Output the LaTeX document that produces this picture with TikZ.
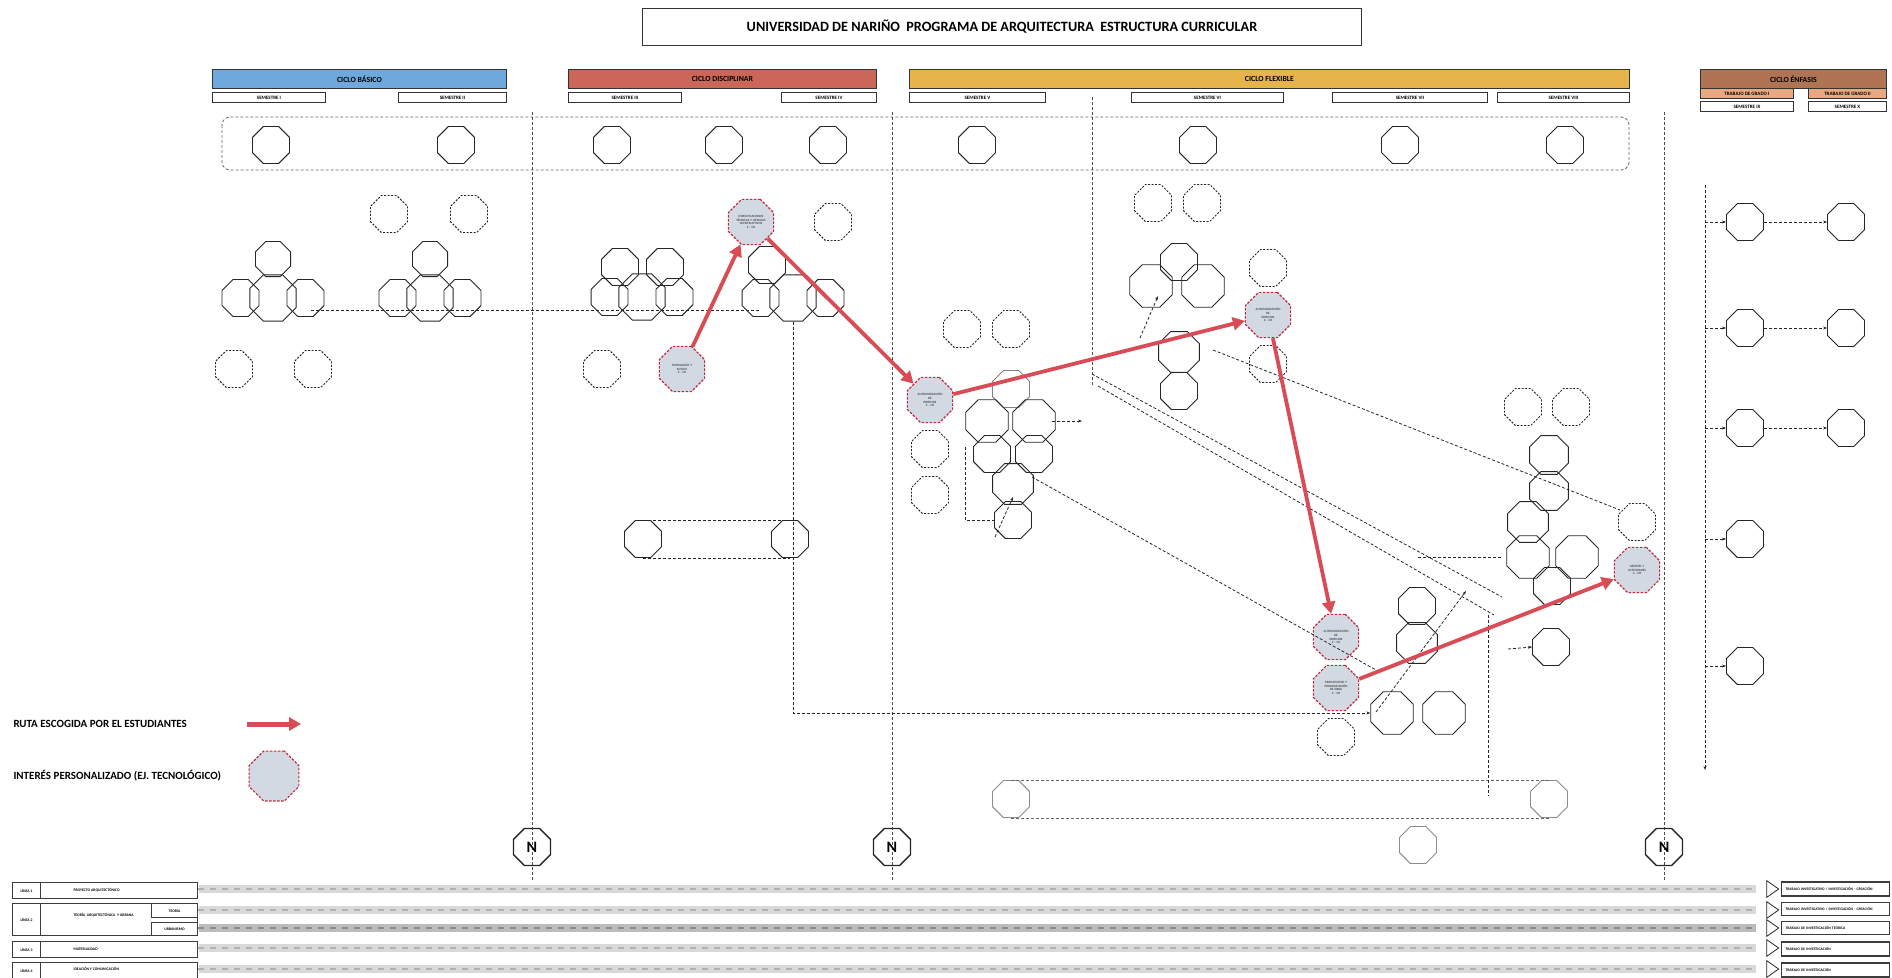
\documentclass[tikz,border=0pt]{standalone}
\usepackage{fontspec}
\setmainfont{Carlito}
\usetikzlibrary{arrows,arrows.meta,shapes.geometric,positioning}
\definecolor{azul}{RGB}{111,168,220}
\definecolor{rojociclo}{RGB}{204,102,88}
\definecolor{oro}{RGB}{230,180,74}
\definecolor{cafe}{RGB}{176,116,85}
\definecolor{salmon}{RGB}{232,168,130}
\definecolor{grisint}{RGB}{211,217,227}
\definecolor{rojoint}{RGB}{192,40,58}
\definecolor{rojoruta}{RGB}{217,75,85}
\definecolor{grisbar}{RGB}{217,217,217}
\definecolor{grisbarosc}{RGB}{188,188,188}
\definecolor{linea}{RGB}{60,60,60}
\begin{document}
\begin{tikzpicture}[x=1pt,y=-1pt]
      \tikzstyle{oct} = [draw=black!85, regular polygon, regular polygon sides=8, minimum size=40pt, inner sep=0pt, line width=0.9pt]
      \tikzstyle{punteado} = [oct, dash pattern=on 2pt off 1.5pt]
      \tikzstyle{interes} = [oct, fill=grisint, draw=rojoint, dash pattern=on 2.5pt off 1.5pt, line width=1.1pt, text=black!70, font=\fontsize{3.2}{3.6}\selectfont\bfseries, align=center, text width=32pt]
      \tikzstyle{nodoN} = [oct, line width=1.4pt, font=\fontsize{16}{16}\selectfont\bfseries]
      \tikzstyle{barra} = [draw=black!80, line width=0.9pt, inner sep=0pt, minimum height=19pt, anchor=north west, font=\fontsize{7.8}{8}\selectfont\bfseries]
      \tikzstyle{sem} = [draw=black!80, line width=0.9pt, inner sep=0pt, minimum height=10pt, anchor=north west, font=\fontsize{5}{5}\selectfont\bfseries]
      \tikzstyle{conn} = [draw=black!85, line width=0.8pt, dash pattern=on 3pt off 2pt]
      \tikzstyle{connf} = [conn, -{Stealth[length=4pt,width=3pt]}]
      \tikzstyle{ruta} = [draw=rojoruta, line width=3.8pt, -{Triangle[length=12pt,width=13pt]}]
      \tikzstyle{celda} = [draw=linea, line width=1.1pt, inner sep=0pt, anchor=north west, font=\fontsize{3.8}{4}\selectfont\bfseries]
      \tikzstyle{rotulo} = [anchor=west, font=\fontsize{3.8}{4}\selectfont\bfseries]
      \tikzstyle{tira} = [fill=grisbar, inner sep=0pt, minimum height=8pt, minimum width=1557pt]
      \tikzstyle{trabajo} = [draw=linea, line width=1.1pt, inner sep=2pt, minimum width=108pt, minimum height=14pt, anchor=west, align=left, text width=100pt, font=\fontsize{3.7}{4}\selectfont\bfseries]
      \tikzstyle{flecha} = [draw=black!85, line width=0.8pt, isosceles triangle, isosceles triangle apex angle=70, minimum height=12pt, inner sep=0pt]
      \useasboundingbox (0,0) rectangle (1892,977);

      \node[draw=black!80, line width=1pt, minimum width=719pt, minimum height=37pt, anchor=north west, font=\fontsize{14.2}{16}\selectfont\bfseries] (titulo) at (642,8) {UNIVERSIDAD DE NARIÑO\ \ PROGRAMA DE ARQUITECTURA\ \ ESTRUCTURA CURRICULAR};

      \node[barra, fill=azul, minimum width=294pt] (basico) at (212,69) {CICLO BÁSICO};
      \node[barra, fill=rojociclo, minimum width=308pt] (disciplinar) at (568,69) {CICLO DISCIPLINAR};
      \node[barra, fill=oro, minimum width=720pt] (flexible) at (909,69) {CICLO FLEXIBLE};
      \node[barra, fill=cafe, minimum width=186pt] (enfasis) at (1700,69) {CICLO ÉNFASIS};

      \node[sem, minimum width=113pt] (s1) at (212,92) {SEMESTRE I};
      \node[sem, minimum width=108pt] (s2) at (398,92) {SEMESTRE II};
      \node[sem, minimum width=113pt] (s3) at (568,92) {SEMESTRE III};
      \node[sem, minimum width=95pt] (s4) at (781,92) {SEMESTRE IV};
      \node[sem, minimum width=136pt] (s5) at (909,92) {SEMESTRE V};
      \node[sem, minimum width=152pt] (s6) at (1131,92) {SEMESTRE VI};
      \node[sem, minimum width=155pt] (s7) at (1332,92) {SEMESTRE VII};
      \node[sem, minimum width=132pt] (s8) at (1497,92) {SEMESTRE VIII};
      \node[sem, fill=salmon, minimum width=93pt, minimum height=10pt] (tg1) at (1700,88) {TRABAJO DE GRADO I};
      \node[sem, fill=salmon, minimum width=78pt, minimum height=10pt] (tg2) at (1808,88) {TRABAJO DE GRADO II};
      \node[sem, minimum width=93pt] (s9) at (1700,101) {SEMESTRE IX};
      \node[sem, minimum width=78pt] (s10) at (1808,101) {SEMESTRE X};

      \draw[conn, rounded corners=8pt, draw=black!60] (222,117) rectangle (1629,170);
      \draw[conn, draw=black!70] (532,112) -- (532,880);
      \draw[conn, draw=black!70] (892,112) -- (892,880);
      \draw[conn, draw=black!70] (1092,97) -- (1092,386);
      \draw[conn, draw=black!70] (1664,112) -- (1664,880);

      \path
      node[oct] (f1) at (271,145) {}
      node[oct] (f2) at (456,145) {}
      node[oct] (f3) at (612,145) {}
      node[oct] (f4) at (724,145) {}
      node[oct] (f5) at (828,145) {}
      node[oct] (f6) at (977,145) {}
      node[oct] (f7) at (1198,145) {}
      node[oct] (f8) at (1400,145) {}
      node[oct] (f9) at (1565,145) {};

      \path
      node[oct, minimum size=50pt] (b1) at (273,298) {}
      node[oct, left=-10pt of b1] (a1) {}
      node[oct, right=-10pt of b1] (c1) {}
      node[oct, minimum size=38pt] (d1) at (273,259) {}
      node[punteado] (e1) at (234,369) {}
      node[punteado] (g1) at (313,369) {}
      node[oct, minimum size=50pt] (b2) at (430,298) {}
      node[oct, left=-10pt of b2] (a2) {}
      node[oct, right=-10pt of b2] (c2) {}
      node[oct, minimum size=38pt] (d2) at (430,259) {}
      node[punteado] (e2) at (389,214) {}
      node[punteado] (g2) at (469,214) {};

      \path
      node[oct, minimum size=50pt] (b3) at (642,297) {}
      node[oct, left=-10pt of b3] (a3) {}
      node[oct, right=-10pt of b3] (c3) {}
      node[oct] (d3) at (620,267) {}
      node[oct] (e3) at (665,267) {}
      node[punteado] (g3) at (602,369) {}
      node[interes] (topo) at (682,369) {TOPOGRAFÍA Y\\SUELOS\\2 - CR}
      node[oct, minimum size=50pt] (b4) at (793,298) {}
      node[oct, left=-10pt of b4] (a4) {}
      node[oct, right=-10pt of b4] (c4) {}
      node[oct] (d4) at (767,265) {}
      node[punteado] (g4) at (833,222) {}
      node[interes] (espec) at (751,222) {ESPECIFICACIONES\\TÉCNICAS Y DETALLES\\CONSTRUCTIVOS\\2 - CR}
      node[oct] (h4) at (643,539) {}
      node[oct] (i4) at (790,539) {};

      \path
      node[punteado] (e5) at (962,329) {}
      node[punteado] (g5) at (1011,329) {}
      node[interes] (auto5) at (930,400) {AUTOMATIZACIÓN\\DE\\EDIFICIOS\\2 - CR}
      node[punteado] (h5) at (930,449) {}
      node[punteado] (i5) at (930,495) {}
      node[oct, draw=black!50] (j5) at (1011,389) {}
      node[oct, minimum size=46pt] (a5) at (987,421) {}
      node[oct, minimum size=46pt] (b5) at (1034,421) {}
      node[oct] (c5) at (992,454) {}
      node[oct] (d5) at (1034,454) {}
      node[oct, minimum size=44pt] (k5) at (1013,484) {}
      node[oct] (l5) at (1013,520) {};

      \path
      node[punteado] (e6) at (1153,203) {}
      node[punteado] (g6) at (1202,203) {}
      node[oct, minimum size=46pt] (a6) at (1151,286) {}
      node[oct] (d6) at (1179,262) {}
      node[oct, minimum size=46pt] (b6) at (1203,286) {}
      node[oct, minimum size=44pt] (c6) at (1179,352) {}
      node[oct] (h6) at (1179,391) {}
      node[punteado] (i6) at (1268,268) {}
      node[interes] (auto6) at (1268,315) {AUTOMATIZACIÓN\\DE\\EDIFICIOS\\2 - CR}
      node[punteado] (j6) at (1268,364) {};

      \path
      node[punteado] (e7) at (1523,407) {}
      node[punteado] (g7) at (1571,407) {}
      node[oct, minimum size=42pt] (a7) at (1549,455) {}
      node[oct, minimum size=42pt] (b7) at (1549,491) {}
      node[oct, minimum size=44pt] (c7) at (1528,522) {}
      node[oct, minimum size=46pt] (d7) at (1528,557) {}
      node[oct, minimum size=46pt] (h7) at (1577,557) {}
      node[oct] (i7) at (1552,586) {}
      node[punteado] (j7) at (1637,522) {}
      node[interes] (gestion) at (1637,570) {GESTIÓN Y\\ACTIVIDADES\\2 - CR}
      node[oct] (k7) at (1551,647) {};

      \path
      node[oct] (a8) at (1417,606) {}
      node[oct, minimum size=44pt] (b8) at (1417,643) {}
      node[oct, minimum size=46pt] (c8) at (1392,713) {}
      node[oct, minimum size=46pt] (d8) at (1444,713) {}
      node[interes] (auto8) at (1336,637) {AUTOMATIZACIÓN\\DE\\EDIFICIOS\\2 - CR}
      node[interes] (presu) at (1336,688) {PRESUPUESTO Y\\PROGRAMACIÓN\\DE OBRA\\2 - CR}
      node[punteado] (g8) at (1336,737) {};

      \path
      node[oct, draw=black!45] (p1) at (1011,799) {}
      node[oct, draw=black!45] (p2) at (1549,799) {}
      node[oct, draw=black!45] (p3) at (1418,845) {}
      node[nodoN] (n1) at (532,847) {N}
      node[nodoN] (n2) at (892,847) {N}
      node[nodoN] (n3) at (1664,847) {N};

      \path
      node[oct] (x1) at (1745,222) {}
      node[oct] (y1) at (1846,222) {}
      node[oct] (x2) at (1745,328) {}
      node[oct] (y2) at (1846,328) {}
      node[oct] (x3) at (1745,428) {}
      node[oct] (y3) at (1846,428) {}
      node[oct] (x4) at (1745,539) {}
      node[oct] (x5) at (1745,666) {};

      \coordinate (vtop) at (1705,185);
      \coordinate (vbot) at (1705,770);
      \draw[connf] (vtop) -- (vbot);
      \draw[connf] (vtop |- x1) -- (x1);
      \draw[connf] (vtop |- x2) -- (x2);
      \draw[connf] (vtop |- x3) -- (x3);
      \draw[connf] (vtop |- x4) -- (x4);
      \draw[connf] (vtop |- x5) -- (x5);
      \draw[connf] (x1) -- (y1);
      \draw[connf] (x2) -- (y2);
      \draw[connf] (x3) -- (y3);

      \draw[conn] (h4.north) -- (i4.north);
      \draw[conn] (h4.south) -- (i4.south);
      \draw[conn, draw=black!60] (p1.north) -- (p2.north);
      \draw[conn, draw=black!60] (p1.south) -- (p2.south);

      \coordinate (lin1) at (311,310);
      \coordinate (lin2) at (760,310);
      \draw[conn] (lin1) -- (lin2);
      \draw[connf] (b4.south) |- (c8.west);
      \draw[conn] (965,447) |- (l5.west);
      \draw[connf] (995,537) -- (1013,497);
      \draw[connf] (1052,421) -- (1082,421);
      \draw[connf] (1140,338) -- (1158,296);
      \draw[conn] (1092,374) -- (1502,597);
      \draw[conn] (1098,386) -- (1494,615);
      \draw[conn] (1213,350) -- (1620,510);
      \draw[conn] (1032,477) -- (1376,670);
      \draw[conn] (1418,557) -- (1502,557);
      \draw[conn] (1488,615) -- (1488,796);
      \draw[connf] (1508,649) -- (k7.west);
      \draw[connf] (1376,712) -- (1466,591);

      \draw[ruta] (topo) -- (espec);
      \draw[ruta] (espec) -- (auto5);
      \draw[ruta] (auto5) -- (auto6);
      \draw[ruta] (auto6) -- (auto8);
      \draw[ruta] (presu) -- (gestion);

      \node[anchor=west, font=\fontsize{11}{12}\selectfont\bfseries] (leyruta) at (10,724) {RUTA ESCOGIDA POR EL ESTUDIANTES};
      \coordinate (lr1) at (247,724);
      \coordinate (lr2) at (301,724);
      \draw[ruta, line width=5pt] (lr1) -- (lr2);
      \node[anchor=west, font=\fontsize{11}{12}\selectfont\bfseries] (leyint) at (10,776) {INTERÉS PERSONALIZADO (EJ. TECNOLÓGICO)};
      \node[interes, minimum size=54pt] (leyoct) at (274,776) {};

      \node[tira] (t1) at (977,889) {};
      \node[tira] (t2) at (977,910) {};
      \node[tira, fill=grisbarosc] (t3) at (977,928) {};
      \node[tira] (t4) at (977,948) {};
      \node[tira] (t5) at (977,969) {};
      \draw[line width=2pt, draw=black!30, dash pattern=on 6pt off 6pt] (t1.west) -- (t1.east);
      \draw[line width=2pt, draw=black!30, dash pattern=on 6pt off 6pt] (t2.west) -- (t2.east);
      \draw[line width=2pt, draw=black!45, dash pattern=on 6pt off 6pt] (t3.west) -- (t3.east);
      \draw[line width=2pt, draw=black!30, dash pattern=on 6pt off 6pt] (t4.west) -- (t4.east);
      \draw[line width=2pt, draw=black!30, dash pattern=on 6pt off 6pt] (t5.west) -- (t5.east);

      \node[celda, minimum width=28pt, minimum height=16pt] (l1) at (12,882) {LÍNEA 1};
      \node[celda, minimum width=157pt, minimum height=16pt] (l1n) at (40,882) {};
      \node[rotulo] at (70,890) {PROYECTO ARQUITECTÓNICO};
      \node[celda, minimum width=28pt, minimum height=32pt] (l2) at (12,903) {LÍNEA 2};
      \node[celda, minimum width=157pt, minimum height=32pt] (l2n) at (40,903) {};
      \node[rotulo] at (70,915) {TEORÍA\ \ ARQUITECTÓNICA\ \ Y URBANA};
      \node[celda, minimum width=46pt, minimum height=14pt] (teo) at (151,903) {TEORÍA};
      \node[celda, minimum width=46pt, minimum height=13pt] (urb) at (151,922) {URBANISMO};
      \node[celda, minimum width=28pt, minimum height=16pt] (l3) at (12,941) {LÍNEA 3};
      \node[celda, minimum width=157pt, minimum height=16pt] (l3n) at (40,941) {};
      \node[rotulo] at (70,949) {MATERIALIDAD};
      \node[celda, minimum width=28pt, minimum height=16pt] (l4) at (12,962) {LÍNEA 4};
      \node[celda, minimum width=157pt, minimum height=16pt] (l4n) at (40,962) {};
      \node[rotulo] at (70,969) {IDEACIÓN Y COMUNICACIÓN};

      \node[flecha] (r1) at (1771,889) {};
      \node[flecha] (r2) at (1771,910) {};
      \node[flecha] (r3) at (1771,928) {};
      \node[flecha] (r4) at (1771,948) {};
      \node[flecha] (r5) at (1771,969) {};
      \node[trabajo] (w1) at (1781,889) {TRABAJO INVESTIGATIVO / INVESTIGACIÓN - CREACIÓN};
      \node[trabajo, minimum height=13pt] (w2) at (1781,909) {TRABAJO INVESTIGATIVO / INVESTIGACIÓN - CREACIÓN};
      \node[trabajo, minimum height=13pt] (w3) at (1781,928) {TRABAJO DE INVESTIGACIÓN TEÓRICA};
      \node[trabajo] (w4) at (1781,949) {TRABAJO DE INVESTIGACIÓN};
      \node[trabajo] (w5) at (1781,970) {TRABAJO DE INVESTIGACIÓN};
\end{tikzpicture}
\end{document}
